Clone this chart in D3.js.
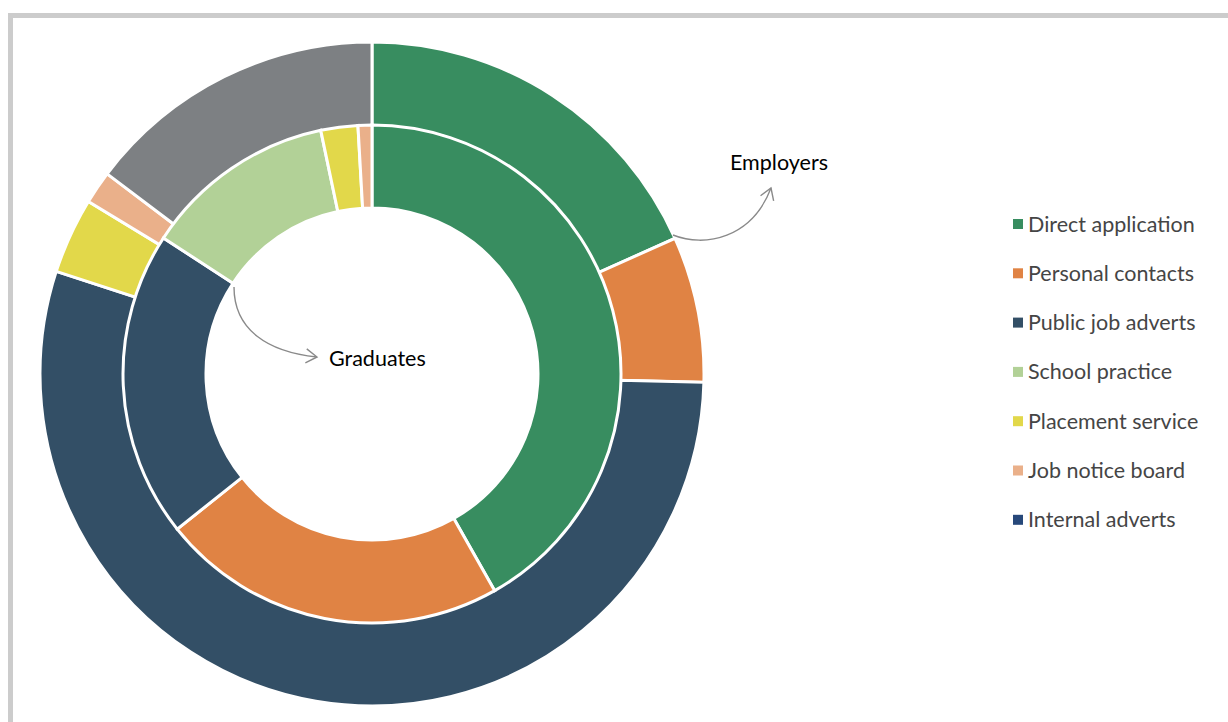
<!DOCTYPE html>
<html>
<head>
<meta charset="utf-8">
<script src="https://cdn.jsdelivr.net/npm/d3@7"></script>
<style>
  html, body { margin: 0; padding: 0; background: #fff; }
  svg { display: block; }
</style>
</head>
<body>
<svg id="chart" width="1228" height="722"></svg>
<script>
// Recruitment channels: employers (outer ring) vs graduates (inner ring), shares in %
const employerChannels = ["Direct application", "Personal contacts", "Public job adverts", "Placement service", "Job notice board", "Internal adverts"];
const employerShares   = [18.3, 7.1, 54.6, 3.7, 1.6, 14.7];

const graduateChannels = ["Direct application", "Personal contacts", "Public job adverts", "School practice", "Placement service", "Job notice board"];
const graduateShares   = [41.8, 22.5, 19.9, 12.5, 2.4, 0.9];

const legendLabels = ["Direct application", "Personal contacts", "Public job adverts", "School practice", "Placement service", "Job notice board", "Internal adverts"];

const sliceColor = {
  "Direct application": "#388d60",
  "Personal contacts":  "#e08344",
  "Public job adverts": "#334f66",
  "School practice":    "#b2d197",
  "Placement service":  "#e2d84a",
  "Job notice board":   "#eab08a",
  "Internal adverts":   "#7d8083"
};
const legendColor = Object.assign({}, sliceColor, { "Internal adverts": "#27487a" });

const FONT = "Lato, 'Open Sans', sans-serif";
const svg = d3.select("#chart");

// frame
svg.append("path")
  .attr("d", "M10.5,722 V15.5 H1240")
  .attr("fill", "none")
  .attr("stroke", "#cccccc")
  .attr("stroke-width", 5);

const cx = 372, cy = 374;
const g = svg.append("g").attr("transform", `translate(${cx},${cy})`);

const pie = d3.pie().sort(null).value(d => d.v);

function ring(names, values, r0, r1) {
  const data = names.map((n, i) => ({ n, v: values[i] }));
  const arc = d3.arc().innerRadius(r0).outerRadius(r1);
  g.append("g").selectAll("path")
    .data(pie(data))
    .join("path")
    .attr("d", arc)
    .attr("fill", d => sliceColor[d.data.n])
    .attr("stroke", "#fff")
    .attr("stroke-width", 3)
    .attr("stroke-linejoin", "miter");
}

ring(employerChannels, employerShares, 248, 332);
ring(graduateChannels, graduateShares, 166, 249);

// callouts
const defs = svg.append("defs");
defs.append("marker")
  .attr("id", "chev")
  .attr("viewBox", "-12 -8 14 16")
  .attr("refX", 0).attr("refY", 0)
  .attr("markerWidth", 14).attr("markerHeight", 16)
  .attr("markerUnits", "userSpaceOnUse")
  .attr("orient", "auto")
  .append("path")
  .attr("d", "M-11,-7 L0,0 L-11,7")
  .attr("fill", "none")
  .attr("stroke", "#8a8a8a")
  .attr("stroke-width", 1.4);

svg.append("path")
  .attr("d", "M673,235 C705,248 752,238 771,188")
  .attr("fill", "none")
  .attr("stroke", "#8a8a8a")
  .attr("stroke-width", 1.4)
  .attr("marker-end", "url(#chev)");

svg.append("path")
  .attr("d", "M234,287 C234,330 268,352 317,357")
  .attr("fill", "none")
  .attr("stroke", "#8a8a8a")
  .attr("stroke-width", 1.4)
  .attr("marker-end", "url(#chev)");

svg.append("text")
  .attr("x", 730).attr("y", 170)
  .attr("font-family", FONT)
  .attr("font-size", 21.5)
  .attr("fill", "#000")
  .text("Employers");

svg.append("text")
  .attr("x", 329).attr("y", 366)
  .attr("font-family", FONT)
  .attr("font-size", 21.5)
  .attr("fill", "#000")
  .text("Graduates");

// legend
const legend = svg.append("g").attr("transform", "translate(1013,224)");
const rows = legend.selectAll("g")
  .data(legendLabels)
  .join("g")
  .attr("transform", (d, i) => `translate(0,${i * 49.3})`);
rows.append("rect")
  .attr("x", 0).attr("y", -5)
  .attr("width", 10).attr("height", 10)
  .attr("fill", d => legendColor[d]);
rows.append("text")
  .attr("x", 15).attr("y", 7.5)
  .attr("font-family", FONT)
  .attr("font-size", 21.5)
  .attr("fill", "#454545")
  .text(d => d);
</script>
</body>
</html>
